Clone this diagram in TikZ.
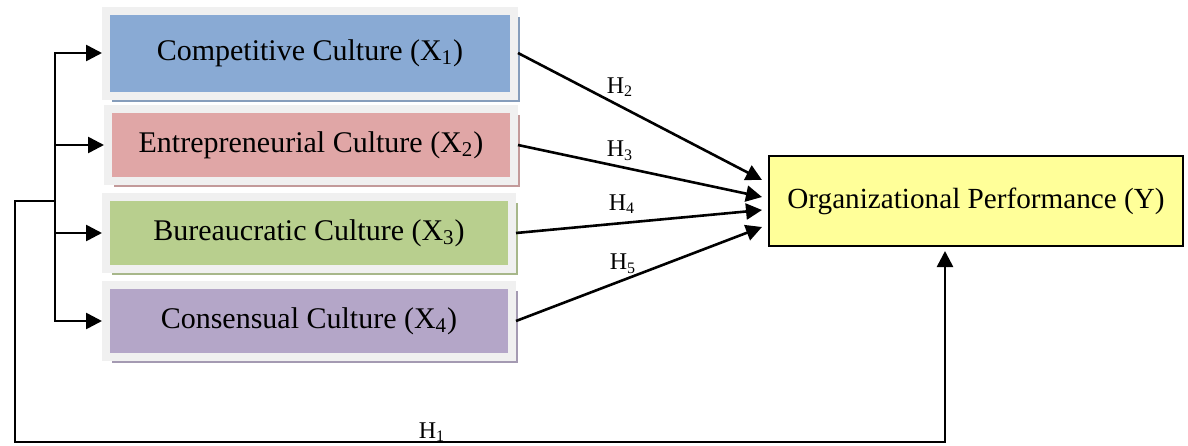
\documentclass[tikz,border=0pt]{standalone}
\usepackage{fontspec}
\setmainfont{Liberation Serif}
\usepackage{xcolor}
\usetikzlibrary{arrows.meta,calc,shadows}
\definecolor{compblue}{HTML}{89AAD4}
\definecolor{entrred}{HTML}{E0A6A6}
\definecolor{burgreen}{HTML}{B8CF8E}
\definecolor{conspurple}{HTML}{B4A6C8}
\definecolor{perfyellow}{HTML}{FFFF99}
\definecolor{framegray}{HTML}{F0F0F0}

\begin{document}
\begin{tikzpicture}[x=0.5pt, y=-0.5pt,
    box/.style={rectangle, draw=framegray, line width=4pt, minimum width=203pt, minimum height=36pt, align=center, font=\fontsize{15}{18}\selectfont},
    boxshadow/.style={general shadow={fill=#1, shadow xshift=3.2pt, shadow yshift=-3.2pt}},
    target/.style={rectangle, draw, line width=1pt, fill=perfyellow, minimum width=207pt, minimum height=45pt, align=center, font=\fontsize{14.6}{18}\selectfont},
    hyp/.style={font=\fontsize{12}{14}\selectfont, inner sep=1pt},
    arrow/.style={-{Triangle[length=8pt, width=8pt]}, line width=1.3pt}
]
\useasboundingbox (0,0) rectangle (1188,445);

\node[box, boxshadow=compblue!70!gray, fill=compblue, minimum height=42.5pt, minimum width=204pt] (comp) at (310, 53) {Competitive Culture (X\textsubscript{1})};
\node[box, boxshadow=entrred!70!gray, fill=entrred] (entr) at (311, 145) {Entrepreneurial Culture (X\textsubscript{2})};
\node[box, boxshadow=burgreen!70!gray, fill=burgreen] (bur) at (309, 233) {Bureaucratic Culture (X\textsubscript{3})};
\node[box, boxshadow=conspurple!70!gray, fill=conspurple] (cons) at (309, 321) {Consensual Culture (X\textsubscript{4})};
\node[target] (perf) at (976, 201) {Organizational Performance (Y)};

\node[hyp] (h2) at (620, 87) {H\textsubscript{2}};
\node[hyp] (h3) at (620, 151) {H\textsubscript{3}};
\node[hyp] (h4) at (622, 204) {H\textsubscript{4}};
\node[hyp] (h5) at (623, 264) {H\textsubscript{5}};
\node[hyp] (h1) at (432, 432) {H\textsubscript{1}};

\draw[arrow] (comp.east) -- ($(perf.west)+(-6,-21)$);
\draw[arrow] (entr.east) -- ($(perf.west)+(-6,-4)$);
\draw[arrow] (bur.east) -- ($(perf.west)+(-6,9)$);
\draw[arrow] (cons.east) -- ($(perf.west)+(-6,26)$);

% fork on the left
\coordinate (fork) at (55, 201);
\coordinate (fb) at (15, 442);
\draw[arrow] (fork) |- (comp.west);
\draw[arrow] (fork) |- (entr.west);
\draw[arrow] (fork) |- (bur.west);
\draw[arrow] (fork) |- (cons.west);
\draw[arrow] (fork) -| (fb) -| ($(perf.south)+(-31,4)$);
\end{tikzpicture}
\end{document}
